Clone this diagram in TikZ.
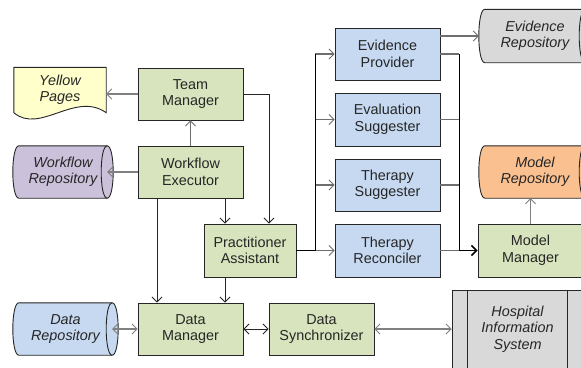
\documentclass[tikz,border=0pt]{standalone}
\usepackage{fontspec}
\setmainfont{Liberation Sans}
\usetikzlibrary{arrows.meta,backgrounds,calc}
\definecolor{boxgreen}{RGB}{215,228,189}
\definecolor{boxblue}{RGB}{198,217,241}
\definecolor{ypyellow}{RGB}{255,255,204}
\definecolor{wfpurple}{RGB}{204,193,218}
\definecolor{repgray}{RGB}{217,217,217}
\definecolor{reporange}{RGB}{250,192,144}
\definecolor{edgec}{RGB}{38,38,38}
\definecolor{flowgray}{RGB}{110,110,110}
\definecolor{dotgray}{RGB}{128,128,128}
\tikzset{
  txt/.style={font=\fontsize{14.4}{16.5}\selectfont, align=center, inner sep=0pt, text=edgec},
  itxt/.style={font=\fontsize{14.4}{16.5}\selectfont\itshape, align=center, inner sep=0pt, text=edgec},
  proc/.style={txt, draw=edgec, line width=0.9pt, minimum width=105pt, minimum height=52pt},
  gbox/.style={proc, fill=boxgreen},
  bbox/.style={proc, fill=boxblue},
  store/.style={itxt, minimum height=52pt},
  tipend/.style={-{Straight Barb[length=5pt,width=10pt,line width=0.8pt]}},
  tiptwo/.style={{Straight Barb[length=5pt,width=10pt,line width=0.8pt]}-{Straight Barb[length=5pt,width=10pt,line width=0.8pt]}},
  bigtip/.style={-{Straight Barb[length=5pt,width=10pt,line width=1.6pt]}},
  dotg/.style={draw=dotgray, line width=1.3pt, dash pattern=on 1.5pt off 0.5pt},
  solg/.style={draw=flowgray, line width=1.2pt},
  ln/.style={draw=edgec, line width=0.9pt},
  heavy/.style={draw=black, line width=1.8pt},
  shapeline/.style={draw=edgec, line width=0.9pt}
}
\newcommand{\storagedraw}[2]{%
  \draw[shapeline, fill=#2] (#1.north west) -- (#1.north east)
    .. controls ([xshift=8pt]#1.north east) and ([xshift=8pt]#1.south east) .. (#1.south east)
    -- (#1.south west)
    .. controls ([xshift=-8pt]#1.south west) and ([xshift=-8pt]#1.north west) .. (#1.north west) -- cycle;
  \draw[shapeline] (#1.north east)
    .. controls ([xshift=-8pt]#1.north east) and ([xshift=-8pt]#1.south east) .. (#1.south east);}
\begin{document}
\begin{tikzpicture}[x=1pt,y=-1pt]
\clip (0,0) rectangle (581,367);
% process boxes
\node[gbox] (TM) at (190.5,94) {Team\\Manager};
\node[gbox] (WE) at (190.5,172) {Workflow\\Executor};
\node[gbox, minimum width=92pt, minimum height=53pt] (PA) at (250,250.5) {Practitioner\\Assistant};
\node[gbox] (DM) at (190.5,329) {Data\\Manager};
\node[gbox] (DS) at (321.5,329) {Data\\Synchronizer};
\node[bbox] (EP) at (387.5,54) {Evidence\\Provider};
\node[bbox, minimum height=53pt] (ES) at (387.5,119.5) {Evaluation\\Suggester};
\node[bbox] (TS) at (387.5,185) {Therapy\\Suggester};
\node[bbox, minimum height=53pt] (TR) at (387.5,250.5) {Therapy\\Reconciler};
\node[gbox, minimum height=53pt] (MM) at (530.5,250.5) {Model\\Manager};
\node[itxt, draw=edgec, line width=0.9pt, fill=repgray, minimum width=131pt, minimum height=78pt] (HIS) at (517.5,329) {Hospital\\Information\\System};
\draw[shapeline] ([xshift=16pt]HIS.north west) -- ([xshift=16pt]HIS.south west);
\draw[shapeline] ([xshift=-16pt]HIS.north east) -- ([xshift=-16pt]HIS.south east);
% stores and document
\node[store, minimum width=88pt] (WR) at (63,172) {Workflow\\Repository};
\node[store, minimum width=93pt] (DR) at (65.5,329) {Data\\Repository};
\node[store, minimum width=100pt, minimum height=53pt] (ER) at (535,36) {Evidence\\Repository};
\node[store, minimum width=100pt] (MR) at (535,172) {Model\\Repository};
\node[itxt, minimum width=92pt, minimum height=45pt] (YP) at (60,90) {Yellow\\Pages};
\begin{pgfonlayer}{background}
  \fill[white] (0,0) rectangle (581,367);
  \storagedraw{WR}{wfpurple}
  \storagedraw{DR}{boxblue}
  \storagedraw{ER}{repgray}
  \storagedraw{MR}{reporange}
  \draw[shapeline, fill=ypyellow] (YP.south west) -- (YP.north west) -- (YP.north east) -- (YP.south east)
    .. controls ($(YP.south east)+(-31,-22)$) and ($(YP.south west)+(26,22)$) .. (YP.south west) -- cycle;
\end{pgfonlayer}
% connectors
\draw[dotg, tipend] (TM.west) -- (TM.west -| YP.east);
\draw[solg, tipend] (WE.north) -- (TM.south);
\draw[dotg, tipend] (WE.west) -- (WR.east);
\draw[ln, tipend] (TM.east) -| ([xshift=19pt]PA.north);
\draw[ln, tipend] ([xshift=-25pt]PA.north |- WE.south) -- ([xshift=-25pt]PA.north);
\draw[ln, tipend] ([xshift=-33.5pt]WE.south) -- ([xshift=-33.5pt]DM.north);
\draw[ln, tipend] ([xshift=-25pt]PA.south) -- ([xshift=-25pt]PA.south |- DM.north);
\draw[dotg, tiptwo] (DR.east) -- (DM.west);
\draw[ln, tiptwo] (DM.east) -- (DS.west);
\draw[dotg, tiptwo] (DS.east) -- (HIS.west);
\coordinate (J1) at ([xshift=19pt]PA.east);
\coordinate (J2) at ([xshift=19pt]TR.east);
\foreach \n in {EP,ES,TS,TR} {
  \draw[solg, tipend] (J1 |- \n.west) -- (\n.west);
  \draw[solg] (\n.east) -- (J2 |- \n.east);
}
\draw[heavy] (PA.east) -- (J1) -- (J1 |- EP.west);
\draw[heavy] (J2 |- EP.east) -- (J2);
\draw[heavy, bigtip] (J2) -- (MM.west);
\draw[solg, tipend] (EP.east |- ER.west) -- ([xshift=-6pt]ER.west);
\draw[dotg, tipend] (MM.north) -- (MM.north |- MR.south);
\end{tikzpicture}
\end{document}
